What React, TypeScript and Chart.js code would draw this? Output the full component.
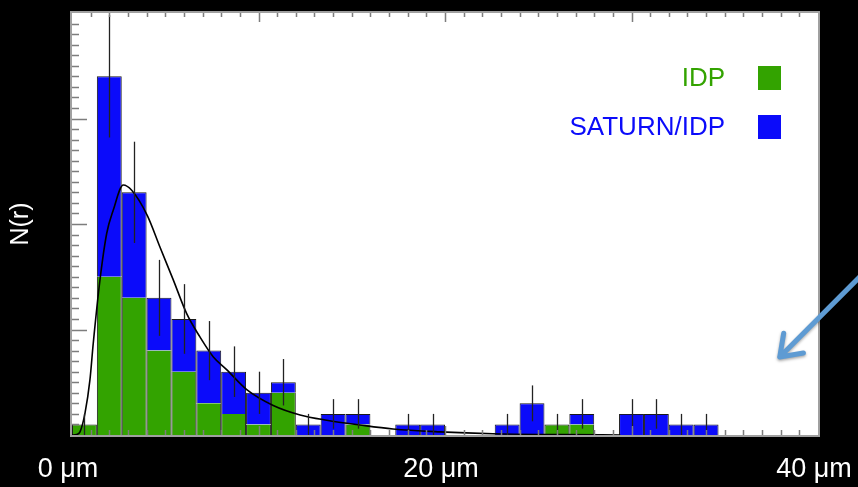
import React, { useEffect, useRef } from "react";
import { Chart, registerables } from "chart.js";

Chart.register(...registerables);

// Histogram bins are 4/3 µm wide, spanning 0–40 µm
const BIN_WIDTH_UM = 4 / 3;
const X_MIN = 0;
const X_MAX = 40;
const Y_MAX = 40;

// Particle counts per bin
const idpCounts = [1, 15, 13, 8, 6, 3, 2, 1, 4, 0, 0, 1, 0, 0, 0, 0, 0, 0, 0, 1, 1, 0, 0, 0, 0, 0, 0, 0, 0, 0];
const saturnIdpCounts = [0, 19, 10, 5, 5, 5, 4, 3, 1, 1, 2, 1, 0, 1, 1, 0, 0, 1, 3, 0, 1, 0, 2, 2, 1, 1, 0, 0, 0, 0];
// Counting uncertainty on the stacked total of each bin
const countErrors = [1, 5.8, 4.8, 3.6, 3.3, 2.8, 2.4, 2, 2.2, 1, 1.4, 1.4, 0, 1, 1, 0, 0, 1, 1.7, 1, 1.4, 0, 1.4, 1.4, 1, 1, 0, 0, 0, 0];

// Fitted size distribution N(r)
const fitRadius = [0, 0.25, 0.43, 0.7, 0.96, 1.14, 1.5, 1.86, 2.21, 2.75, 3.2, 4.04, 4.72, 5.43, 6.15, 6.86, 7.58, 8.29, 9.37, 10.79, 12.23, 13.66, 15.44, 17.21, 19.73, 22.57, 26.2, 29.4];
const fitDensity = [0, 0.05, 0.3, 2.1, 5.2, 8.7, 14.7, 19.1, 21.3, 23.7, 23.2, 20.8, 17.8, 14.7, 11.5, 9.3, 7.4, 6.2, 4.3, 2.8, 1.9, 1.4, 0.95, 0.57, 0.3, 0.12, 0.04, 0];

const xTickValues = [0, 20, 40];
const xTickLabels = ["0 μm", "20 μm", "40 μm"];
const yTitle = "N(r)";
const seriesLabels = ["IDP", "SATURN/IDP"];
const seriesColors = ["#33a300", "#0b0bfa"];

const FONT = "'Liberation Sans', Arial, Helvetica, sans-serif";
const OUTLINE = "#1a1a1a";

const binCenters = idpCounts.map((_, i) => (i + 0.5) * BIN_WIDTH_UM);

const backgroundPlugin = {
  id: "panelBackground",
  beforeDraw(chart: any) {
    const { ctx, chartArea: a } = chart;
    ctx.save();
    ctx.fillStyle = "#000";
    ctx.fillRect(0, 0, chart.width, chart.height);
    ctx.fillStyle = "#fff";
    ctx.fillRect(a.left, a.top, a.right - a.left, a.bottom - a.top);
    ctx.restore();
  },
};

const errorBarPlugin = {
  id: "errorBars",
  afterDatasetsDraw(chart: any) {
    const { ctx, chartArea: a, scales } = chart;
    const xs = scales.x;
    const ys = scales.y;
    ctx.save();
    ctx.beginPath();
    ctx.rect(a.left, a.top, a.right - a.left, a.bottom - a.top);
    ctx.clip();
    ctx.strokeStyle = "#222";
    ctx.lineWidth = 1.3;
    binCenters.forEach((c, i) => {
      const err = countErrors[i];
      if (!err) return;
      const total = idpCounts[i] + saturnIdpCounts[i];
      const px = Math.round(xs.getPixelForValue(c)) + 0.5;
      ctx.beginPath();
      ctx.moveTo(px, ys.getPixelForValue(Math.max(0, total - err)));
      ctx.lineTo(px, ys.getPixelForValue(total + err));
      ctx.stroke();
    });
    ctx.restore();
  },
};

const framePlugin = {
  id: "frameAndLabels",
  afterDraw(chart: any) {
    const { ctx, chartArea: a, scales } = chart;
    const xs = scales.x;
    const ys = scales.y;
    ctx.save();

    // inward ticks
    ctx.strokeStyle = "#7d7d7d";
    ctx.lineWidth = 1.5;
    ctx.beginPath();
    for (let v = X_MIN + 1; v < X_MAX; v++) {
      const major = v % 10 === 0;
      const px = Math.round(xs.getPixelForValue(v)) + 0.5;
      ctx.moveTo(px, a.top);
      ctx.lineTo(px, a.top + (major ? 9 : 4));
      ctx.moveTo(px, a.bottom);
      ctx.lineTo(px, a.bottom - (major ? 9 : 5));
    }
    for (let v = 1; v < Y_MAX; v++) {
      const major = v % 10 === 0;
      const py = Math.round(ys.getPixelForValue(v)) + 0.5;
      ctx.moveTo(a.left, py);
      ctx.lineTo(a.left + (major ? 15 : 7), py);
    }
    ctx.stroke();

    // frame
    ctx.strokeStyle = "#a0a0a0";
    ctx.lineWidth = 2;
    ctx.strokeRect(a.left - 1, a.top - 1, a.right - a.left + 2, a.bottom - a.top + 2);

    // x tick labels
    ctx.fillStyle = "#fff";
    ctx.font = `27px ${FONT}`;
    ctx.textAlign = "center";
    ctx.textBaseline = "alphabetic";
    xTickValues.forEach((v, i) => {
      ctx.fillText(xTickLabels[i], xs.getPixelForValue(v) - 4, a.bottom + 42);
    });

    // y title
    ctx.save();
    ctx.translate(21, (a.top + a.bottom) / 2);
    ctx.rotate(-Math.PI / 2);
    ctx.font = `25px ${FONT}`;
    ctx.textAlign = "center";
    ctx.textBaseline = "middle";
    ctx.fillText(yTitle, 0, 0);
    ctx.restore();

    // legend, text to the left of each swatch
    ctx.font = `26px ${FONT}`;
    ctx.textAlign = "right";
    ctx.textBaseline = "alphabetic";
    seriesLabels.forEach((label, i) => {
      const top = a.top + 53 + i * 49;
      ctx.fillStyle = seriesColors[i];
      ctx.fillRect(a.right - 60, top, 23, 24);
      ctx.fillText(label, a.right - 93, top + 20);
    });

    // pointer arrow
    const tipX = xs.getPixelForValue(37.95);
    const tipY = ys.getPixelForValue(7.4);
    const tailX = xs.getPixelForValue(42.3);
    const tailY = ys.getPixelForValue(15.1);
    const ang = Math.atan2(tailY - tipY, tailX - tipX);
    ctx.strokeStyle = "#5e9bd3";
    ctx.lineWidth = 5;
    ctx.lineCap = "round";
    ctx.lineJoin = "round";
    ctx.shadowColor = "rgba(0,0,0,0.35)";
    ctx.shadowBlur = 3;
    ctx.shadowOffsetY = 1.5;
    ctx.beginPath();
    ctx.moveTo(tailX, tailY);
    ctx.lineTo(tipX, tipY);
    ctx.moveTo(tipX + 24 * Math.cos(ang - 0.62), tipY + 24 * Math.sin(ang - 0.62));
    ctx.lineTo(tipX, tipY);
    ctx.lineTo(tipX + 24 * Math.cos(ang + 0.62), tipY + 24 * Math.sin(ang + 0.62));
    ctx.stroke();

    ctx.restore();
  },
};

export default function App() {
  const ref = useRef<HTMLCanvasElement>(null);

  useEffect(() => {
    document.body.style.margin = "0";
    document.body.style.background = "#000";
    // green segments get a top outline only where nothing is stacked on them
    const greenBorder = (c: any) => ({
      left: 1,
      right: 1,
      top: saturnIdpCounts[c.dataIndex] ? 0 : 1,
      bottom: 0,
    });
    const blueBorder = { left: 1, right: 1, top: 1, bottom: 0 };
    const chart = new Chart(ref.current as HTMLCanvasElement, {
      type: "bar",
      data: {
        datasets: [
          {
            type: "bar",
            label: seriesLabels[0],
            data: binCenters.map((c, i) => ({ x: c, y: idpCounts[i] })),
            backgroundColor: seriesColors[0],
            borderColor: OUTLINE,
            borderWidth: greenBorder,
            barPercentage: 1,
            categoryPercentage: 1,
            inflateAmount: 0,
            order: 1,
          },
          {
            type: "bar",
            label: seriesLabels[1],
            data: binCenters.map((c, i) => ({ x: c, y: saturnIdpCounts[i] })),
            backgroundColor: seriesColors[1],
            borderColor: OUTLINE,
            borderWidth: blueBorder,
            barPercentage: 1,
            categoryPercentage: 1,
            inflateAmount: 0,
            order: 1,
          },
          {
            type: "line",
            label: "fit",
            stack: "fit",
            data: fitRadius.map((r, i) => ({ x: r, y: fitDensity[i] })),
            borderColor: "#000",
            borderWidth: 1.6,
            pointRadius: 0,
            cubicInterpolationMode: "monotone",
            fill: false,
            order: 0,
          },
        ],
      } as any,
      options: {
        responsive: false,
        animation: false,
        devicePixelRatio: 1,
        layout: { padding: { left: 72, right: 40, top: 13, bottom: 52 } },
        plugins: { legend: { display: false }, tooltip: { enabled: false } },
        scales: {
          x: {
            type: "linear",
            min: X_MIN,
            max: X_MAX,
            offset: false,
            grid: { offset: false },
            display: false,
            stacked: true,
          },
          y: { type: "linear", min: 0, max: Y_MAX, display: false, stacked: true },
        },
      } as any,
      plugins: [backgroundPlugin, errorBarPlugin, framePlugin],
    });
    return () => chart.destroy();
  }, []);

  return (
    <div style={{ width: 858, height: 487, background: "#000" }}>
      <canvas ref={ref} width={858} height={487} style={{ display: "block" }} />
    </div>
  );
}
